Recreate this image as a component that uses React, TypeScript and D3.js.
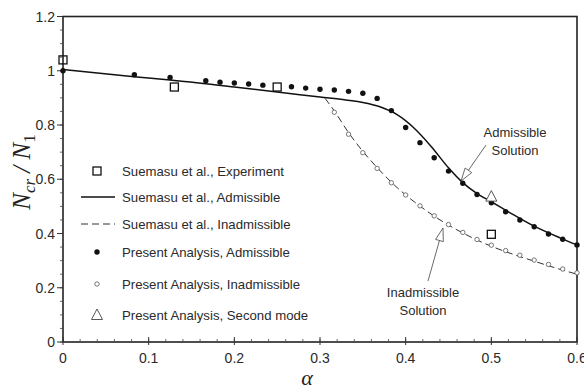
import React from "react";
import * as d3 from "d3";

// ---- data ----
const xTicks = [0, 0.1, 0.2, 0.3, 0.4, 0.5, 0.6];
const xTickLabels = ["0", "0.1", "0.2", "0.3", "0.4", "0.5", "0.6"];
const yTicks = [0, 0.2, 0.4, 0.6, 0.8, 1.0, 1.2];
const yTickLabels = ["0", "0.2", "0.4", "0.6", "0.8", "1", "1.2"];

const expX = [0, 0.13, 0.25, 0.5];
const expY = [1.04, 0.94, 0.94, 0.397];

const suemAdmX = [0, 0.083, 0.125, 0.2, 0.25, 0.3, 0.33, 0.35, 0.37, 0.39, 0.41, 0.43, 0.45, 0.465, 0.483, 0.5, 0.52, 0.55, 0.58, 0.6];
const suemAdmY = [1.005, 0.978, 0.966, 0.94, 0.922, 0.903, 0.892, 0.883, 0.867, 0.838, 0.788, 0.72, 0.642, 0.592, 0.548, 0.517, 0.48, 0.427, 0.384, 0.358];

const suemInX = [0.306, 0.3167, 0.3333, 0.35, 0.3667, 0.3833, 0.4, 0.4167, 0.4333, 0.45, 0.4667, 0.4833, 0.5, 0.5167, 0.5333, 0.55, 0.5667, 0.5833, 0.6];
const suemInY = [0.898, 0.852, 0.772, 0.703, 0.643, 0.589, 0.542, 0.501, 0.464, 0.431, 0.402, 0.376, 0.353, 0.333, 0.315, 0.298, 0.281, 0.265, 0.25];

const presAdmX = [0, 0.0833, 0.125, 0.1667, 0.1833, 0.2, 0.2167, 0.2333, 0.2667, 0.2833, 0.3, 0.3167, 0.3333, 0.35, 0.3667, 0.3833, 0.4, 0.4167, 0.4333, 0.45, 0.4667, 0.4833, 0.5, 0.5167, 0.5333, 0.55, 0.5667, 0.5833, 0.6];
const presAdmY = [1.0, 0.985, 0.975, 0.963, 0.958, 0.955, 0.951, 0.947, 0.941, 0.936, 0.932, 0.929, 0.924, 0.917, 0.898, 0.853, 0.791, 0.735, 0.679, 0.63, 0.585, 0.544, 0.513, 0.48, 0.45, 0.425, 0.398, 0.379, 0.358];

const presInX = [0.3167, 0.3333, 0.35, 0.3667, 0.3833, 0.4, 0.4167, 0.4333, 0.45, 0.4667, 0.4833, 0.5, 0.5167, 0.5333, 0.55, 0.5667, 0.5833, 0.6];
const presInY = [0.847, 0.766, 0.698, 0.64, 0.587, 0.542, 0.502, 0.465, 0.433, 0.404, 0.378, 0.357, 0.337, 0.32, 0.302, 0.286, 0.269, 0.255];

const secondX = [0.5];
const secondY = [0.536];

const legendLabels = [
  "Suemasu et al., Experiment",
  "Suemasu et al., Admissible",
  "Suemasu et al., Inadmissible",
  "Present Analysis, Admissible",
  "Present Analysis, Inadmissible",
  "Present Analysis, Second mode",
];

const W = 584, H = 386;
const M = { left: 63, right: 577, top: 16.5, bottom: 342 };
const FONT = "'Liberation Sans', Arial, sans-serif";
const SERIF = "'Liberation Serif', 'DejaVu Serif', serif";
const TXT = "#2a2a2a";

export default function App() {
  const x = d3.scaleLinear().domain([0, 0.6]).range([M.left, M.right]);
  const y = d3.scaleLinear().domain([0, 1.2]).range([M.bottom, M.top]);
  const line = d3.line<[number, number]>().x(d => x(d[0])).y(d => y(d[1])).curve(d3.curveMonotoneX);

  const admPts = suemAdmX.map((v, i) => [v, suemAdmY[i]] as [number, number]);
  const inPts = suemInX.map((v, i) => [v, suemInY[i]] as [number, number]);

  const xMinor = d3.range(0, 0.6001, 0.02);
  const yMinor = d3.range(0, 1.2001, 0.05);

  const tri = (cx: number, cy: number, s: number) =>
    `M${cx},${cy - s * 0.6}L${cx + s * 0.55},${cy + s * 0.45}L${cx - s * 0.55},${cy + s * 0.45}Z`;

  const legendY = [171, 197, 224, 252, 284, 315];
  const legendMX = 97;

  const arrow = (x1: number, y1: number, x2: number, y2: number) => {
    const ang = Math.atan2(y2 - y1, x2 - x1);
    const L = 13, Wd = 4;
    const bx = x2 - L * Math.cos(ang), by = y2 - L * Math.sin(ang);
    const px = -Math.sin(ang) * Wd, py = Math.cos(ang) * Wd;
    return (
      <g>
        <line x1={x1} y1={y1} x2={bx} y2={by} stroke="#444" strokeWidth={0.8} />
        <path d={`M${x2},${y2}L${bx + px},${by + py}L${bx - px},${by - py}Z`} fill="white" stroke="#444" strokeWidth={0.8} />
      </g>
    );
  };

  return (
    <svg width={W} height={H} style={{ position: "absolute", left: 0, top: 0, background: "white" }}>
      <rect x={0} y={0} width={W} height={H} fill="white" />
      <rect x={M.left} y={M.top} width={M.right - M.left} height={M.bottom - M.top} fill="none" stroke="#222" strokeWidth={1.6} />

      {yMinor.map((v, i) => (
        <line key={"ym" + i} x1={M.left - 3} x2={M.left} y1={y(v)} y2={y(v)} stroke="#444" strokeWidth={0.8} />
      ))}
      {yTicks.map((v, i) => (
        <g key={"yt" + i}>
          <line x1={M.left - 6} x2={M.left} y1={y(v)} y2={y(v)} stroke="#333" strokeWidth={1} />
          <text x={M.left - 8} y={y(v) + 5} textAnchor="end" fontFamily={FONT} fontSize={14} fill={TXT}>{yTickLabels[i]}</text>
        </g>
      ))}
      {xMinor.map((v, i) => (
        <line key={"xm" + i} x1={x(v)} x2={x(v)} y1={M.bottom - 3} y2={M.bottom} stroke="#444" strokeWidth={0.8} />
      ))}
      {xTicks.map((v, i) => (
        <g key={"xt" + i}>
          <line x1={x(v)} x2={x(v)} y1={M.bottom - 5} y2={M.bottom + 3} stroke="#333" strokeWidth={1} />
          <text x={x(v)} y={M.bottom + 21} textAnchor="middle" fontFamily={FONT} fontSize={14} fill={TXT}>{xTickLabels[i]}</text>
        </g>
      ))}

      <text transform={`translate(30,172) rotate(-90)`} textAnchor="middle" fontFamily={SERIF} fontStyle="italic" fontSize={25} fill="#222">
        N<tspan fontSize={17} dy={5}>cr</tspan><tspan dy={-5}> / N</tspan><tspan fontSize={17} fontStyle="normal" dy={5}>1</tspan>
      </text>
      <text x={307} y={385} textAnchor="middle" fontFamily={SERIF} fontStyle="italic" fontSize={22} fill="#222">α</text>

      <path d={line(admPts) || ""} fill="none" stroke="#111" strokeWidth={1.5} />
      <path d={line(inPts) || ""} fill="none" stroke="#333" strokeWidth={1} strokeDasharray="7,4" />

      {presInX.map((v, i) => (
        <circle key={"pi" + i} cx={x(v)} cy={y(presInY[i])} r={2.2} fill="white" stroke="#555" strokeWidth={0.8} />
      ))}
      {presAdmX.map((v, i) => (
        <circle key={"pa" + i} cx={x(v)} cy={y(presAdmY[i])} r={2.7} fill="#111" />
      ))}
      {expX.map((v, i) => (
        <rect key={"ex" + i} x={x(v) - 4} y={y(expY[i]) - 4} width={8} height={8} fill="none" stroke="#111" strokeWidth={1.3} />
      ))}
      {secondX.map((v, i) => (
        <path key={"sm" + i} d={tri(x(v), y(secondY[i]), 10)} fill="white" stroke="#444" strokeWidth={0.9} />
      ))}

      {arrow(486, 145, 461, 181)}
      <text x={515} y={137} textAnchor="middle" fontFamily={FONT} fontSize={13} fill={TXT}>Admissible</text>
      <text x={515} y={155} textAnchor="middle" fontFamily={FONT} fontSize={13} fill={TXT}>Solution</text>
      {arrow(428, 281, 443, 228)}
      <text x={423} y={297} textAnchor="middle" fontFamily={FONT} fontSize={13} fill={TXT}>Inadmissible</text>
      <text x={423} y={315} textAnchor="middle" fontFamily={FONT} fontSize={13} fill={TXT}>Solution</text>

      <rect x={legendMX - 4} y={legendY[0] - 4} width={8} height={8} fill="none" stroke="#111" strokeWidth={1.3} />
      <line x1={81} x2={115} y1={legendY[1]} y2={legendY[1]} stroke="#111" strokeWidth={1.5} />
      <line x1={81} x2={115} y1={legendY[2]} y2={legendY[2]} stroke="#333" strokeWidth={1} strokeDasharray="7,4" />
      <circle cx={legendMX} cy={legendY[3]} r={2.7} fill="#111" />
      <circle cx={legendMX} cy={legendY[4]} r={2.2} fill="white" stroke="#555" strokeWidth={0.8} />
      <path d={tri(legendMX, legendY[5], 10)} fill="white" stroke="#444" strokeWidth={0.9} />
      {legendLabels.map((t, i) => (
        <text key={"lg" + i} x={122} y={legendY[i] + 4.5} fontFamily={FONT} fontSize={13.2} fill={TXT}>{t}</text>
      ))}
    </svg>
  );
}
